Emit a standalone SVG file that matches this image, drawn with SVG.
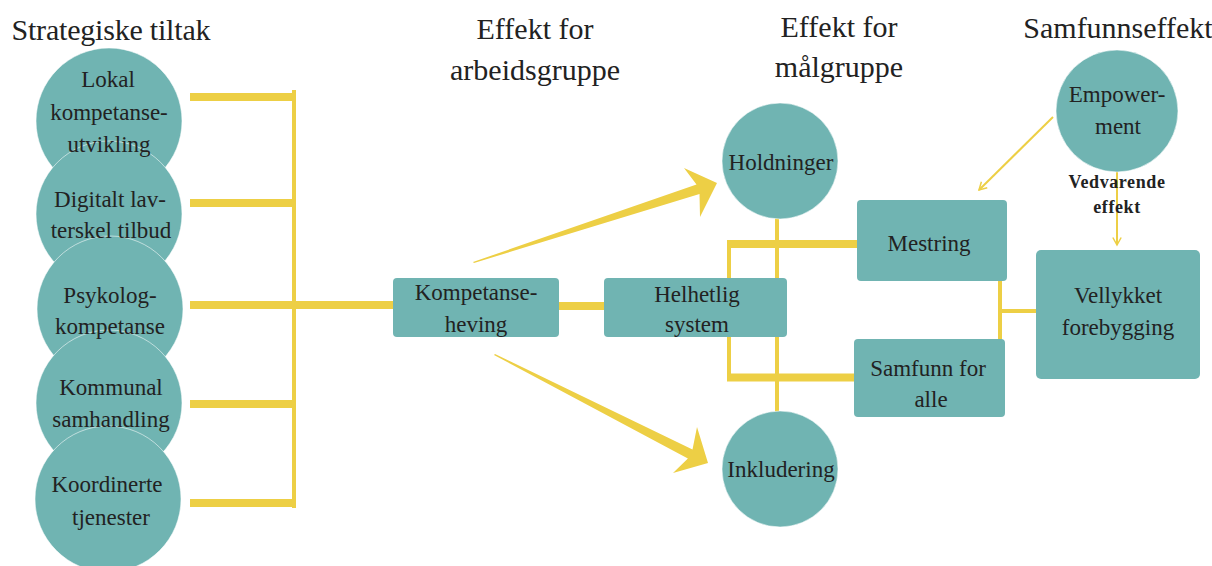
<svg xmlns="http://www.w3.org/2000/svg" width="1212" height="566" viewBox="0 0 1212 566">
  <style>
    .node { fill: #70b4b2; }
    .disc { fill: #70b4b2; stroke: #ffffff; stroke-opacity: 0.55; stroke-width: 1; }
    .label { font-family: "Liberation Serif", "Times New Roman", serif; font-size: 23px; fill: #222; text-anchor: middle; }
    .title { font-family: "Liberation Serif", "Times New Roman", serif; font-size: 30px; fill: #222; text-anchor: middle; }
    .note { font-family: "Liberation Serif", "Times New Roman", serif; font-size: 18px; font-weight: bold; fill: #222; text-anchor: middle; letter-spacing: 0.6px; }
    .bar { stroke: #edcf45; stroke-width: 8; fill: none; }
    .thin { stroke: #edcf45; stroke-width: 4; fill: none; }
    .hair { stroke: #edcf45; stroke-width: 2; fill: none; }
    .taper { fill: #edcf45; }
  </style>
  <defs>
    <marker id="vee" viewBox="0 0 12 12" refX="10" refY="6" markerWidth="10" markerHeight="10" markerUnits="userSpaceOnUse" orient="auto">
      <polyline points="1,1 10,6 1,11" fill="none" stroke="#edcf45" stroke-width="1.8"/>
    </marker>
  </defs>

  <!-- column headings -->
  <g id="headings">
    <text class="title" x="111" y="40" textLength="199" lengthAdjust="spacing">Strategiske tiltak</text>
    <text class="title" x="535" y="39">Effekt for</text>
    <text class="title" x="535" y="80">arbeidsgruppe</text>
    <text class="title" x="839" y="37">Effekt for</text>
    <text class="title" x="839" y="77">målgruppe</text>
    <text class="title" x="1118" y="38">Samfunnseffekt</text>
  </g>

  <!-- connectors -->
  <g id="connectors">
    <!-- strategic measures bracket -->
    <line class="bar" x1="190" y1="97" x2="294" y2="97"/>
    <line class="bar" x1="190" y1="203" x2="294" y2="203"/>
    <line class="bar" x1="190" y1="305" x2="393" y2="305"/>
    <line class="bar" x1="190" y1="404" x2="294" y2="404"/>
    <line class="bar" x1="190" y1="503" x2="294" y2="503"/>
    <line class="thin" x1="294" y1="90" x2="294" y2="508"/>
    <!-- Kompetanseheving to Helhetlig system -->
    <line class="bar" x1="559" y1="306" x2="604" y2="306"/>
    <!-- tapered arrows -->
    <polygon class="taper" points="473,262 696.5,184.4 684,168 717,183 700,217 699.5,194 474,263"/>
    <polygon class="taper" points="495,354 692.5,449.5 697,427 708,463 673,473 687.9,458.4 494,355"/>
    <!-- target group bracket -->
    <line class="thin" x1="729" y1="240" x2="729" y2="381"/>
    <line class="bar" x1="727" y1="244" x2="858" y2="244"/>
    <line class="bar" x1="727" y1="377.5" x2="855" y2="377.5"/>
    <line class="thin" x1="777" y1="218" x2="777" y2="412"/>
    <!-- outcome link -->
    <line class="thin" x1="1000" y1="280" x2="1000" y2="340"/>
    <line class="thin" x1="1000" y1="311" x2="1037" y2="311"/>
    <!-- empowerment arrows -->
    <line class="hair" x1="1053" y1="117" x2="979" y2="190" marker-end="url(#vee)"/>
    <line class="hair" x1="1117" y1="152" x2="1117" y2="245" marker-end="url(#vee)"/>
  </g>

  <!-- strategic measures: the stacked discs overlap, so they sit beneath all of their labels -->
  <g id="tiltak-discs">
    <circle id="lokal-disc" class="disc" cx="109" cy="121" r="73"/>
    <circle id="digitalt-disc" class="disc" cx="109" cy="214" r="73"/>
    <circle id="psykolog-disc" class="disc" cx="110" cy="309" r="73"/>
    <circle id="kommunal-disc" class="disc" cx="109" cy="403" r="73"/>
    <circle id="koordinerte-disc" class="disc" cx="108" cy="499" r="73"/>
  </g>
  <g id="lokal">
    <text class="label" x="108" y="87">Lokal</text>
    <text class="label" x="109" y="120">kompetanse-</text>
    <text class="label" x="109" y="152">utvikling</text>
  </g>
  <g id="digitalt">
    <text class="label" x="110" y="207">Digitalt lav-</text>
    <text class="label" x="111" y="238">terskel tilbud</text>
  </g>
  <g id="psykolog">
    <text class="label" x="110" y="303">Psykolog-</text>
    <text class="label" x="110" y="334">kompetanse</text>
  </g>
  <g id="kommunal">
    <text class="label" x="111" y="395">Kommunal</text>
    <text class="label" x="111" y="427">samhandling</text>
  </g>
  <g id="koordinerte">
    <text class="label" x="107" y="492">Koordinerte</text>
    <text class="label" x="111" y="525">tjenester</text>
  </g>

  <!-- working group effect -->
  <g id="kompetanseheving">
    <rect class="node" x="393" y="278" width="166" height="59" rx="4"/>
    <text class="label" x="476" y="300">Kompetanse-</text>
    <text class="label" x="476" y="332">heving</text>
  </g>
  <g id="helhetlig">
    <rect class="node" x="604" y="278" width="183" height="59" rx="4"/>
    <text class="label" x="697" y="302">Helhetlig</text>
    <text class="label" x="697" y="332">system</text>
  </g>

  <!-- target group effect -->
  <g id="holdninger">
    <circle class="disc" cx="780" cy="161" r="58"/>
    <text class="label" x="781" y="170">Holdninger</text>
  </g>
  <g id="inkludering">
    <circle class="disc" cx="780" cy="469" r="58"/>
    <text class="label" x="781" y="477">Inkludering</text>
  </g>
  <g id="mestring">
    <rect class="node" x="857" y="200" width="150" height="81" rx="4"/>
    <text class="label" x="929" y="251">Mestring</text>
  </g>
  <g id="samfunn">
    <rect class="node" x="854" y="339" width="151" height="78" rx="4"/>
    <text class="label" x="928" y="376">Samfunn for</text>
    <text class="label" x="931" y="407">alle</text>
  </g>

  <!-- societal effect -->
  <g id="empowerment">
    <circle class="disc" cx="1117" cy="111" r="61"/>
    <text class="label" x="1117" y="102">Empower-</text>
    <text class="label" x="1118" y="134">ment</text>
  </g>
  <g id="vedvarende">
    <text class="note" x="1117" y="188">Vedvarende</text>
    <text class="note" x="1117" y="213">effekt</text>
  </g>
  <g id="vellykket">
    <rect class="node" x="1036" y="250" width="164" height="129" rx="5"/>
    <text class="label" x="1118" y="303">Vellykket</text>
    <text class="label" x="1118" y="335">forebygging</text>
  </g>
</svg>
